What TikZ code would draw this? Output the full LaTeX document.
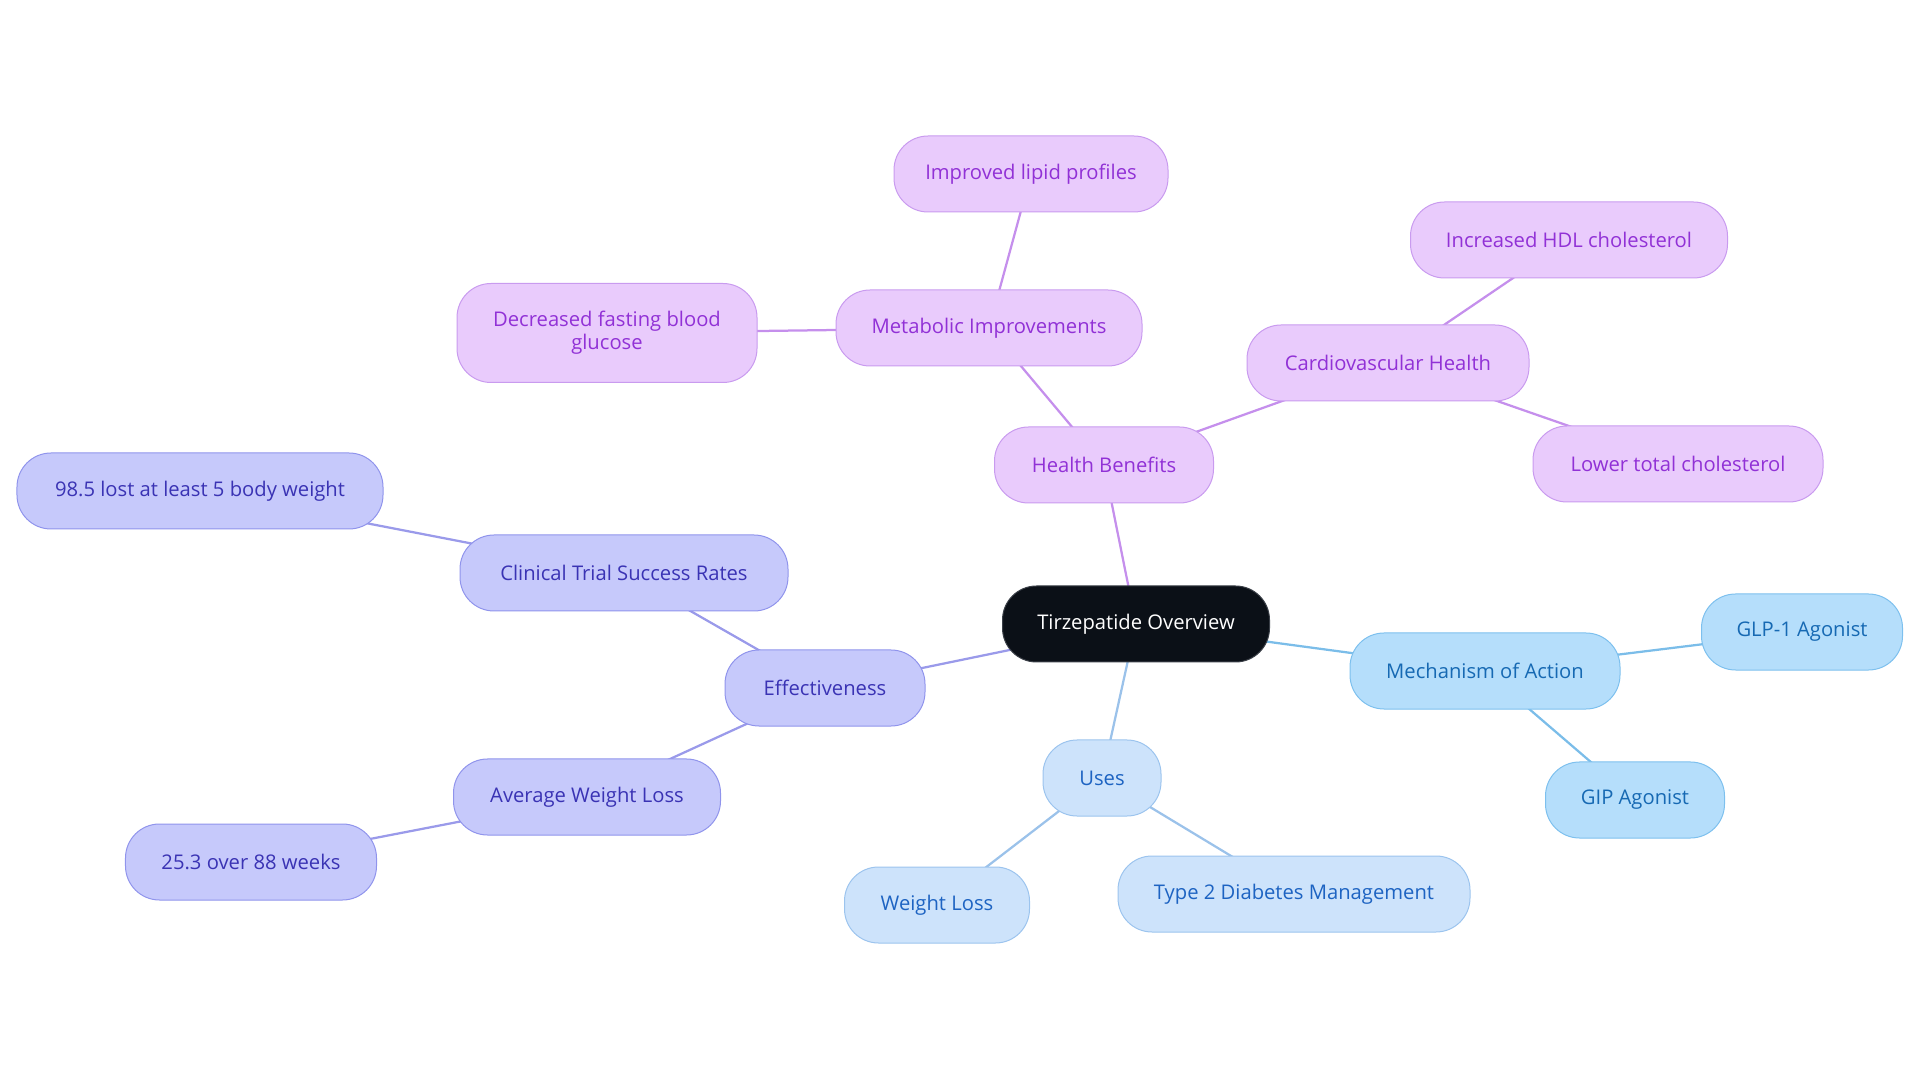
\documentclass[tikz,border=0pt]{standalone}
\usepackage{fontspec}
\setmainfont{Open Sans}
\usepackage{xcolor}
\usepackage{tikz}
\usetikzlibrary{positioning, backgrounds}

\definecolor{rootfill}{HTML}{0B1017}
\definecolor{rootline}{HTML}{3A3F47}
\definecolor{purpfill}{HTML}{E9CBFC}
\definecolor{purpline}{HTML}{C99BEF}
\definecolor{purptext}{HTML}{9131D6}
\definecolor{purpedge}{HTML}{C58FEC}
\definecolor{indifill}{HTML}{C6C9FB}
\definecolor{indiline}{HTML}{9094EC}
\definecolor{inditext}{HTML}{3A33B4}
\definecolor{indiedge}{HTML}{9A9AEA}
\definecolor{usesfill}{HTML}{CDE3FB}
\definecolor{usesline}{HTML}{9CC4EE}
\definecolor{usestext}{HTML}{1D63C2}
\definecolor{usesedge}{HTML}{9BC2EA}
\definecolor{skyfill}{HTML}{B5DEFB}
\definecolor{skyline}{HTML}{7DC0EE}
\definecolor{skytext}{HTML}{1669B3}
\definecolor{skyedge}{HTML}{7BBDE9}

\begin{document}
\begin{tikzpicture}[x=0.2mm, y=-0.2mm,
    box/.style={draw, rectangle, rounded corners=6.8mm, minimum height=15.2mm, inner sep=0pt, align=center, line width=0.2mm, font=\fontsize{11.5}{13.2}\selectfont},
    root/.style={box, fill=rootfill, draw=rootline, text=white},
    purp/.style={box, fill=purpfill, draw=purpline, text=purptext},
    indi/.style={box, fill=indifill, draw=indiline, text=inditext},
    uses/.style={box, fill=usesfill, draw=usesline, text=usestext},
    sky/.style={box, fill=skyfill, draw=skyline, text=skytext},
    link/.style={line width=0.45mm}]
    \useasboundingbox (0,0) rectangle (1920,1083);

    % Nodes
    \node[root, minimum width=53.4mm] (tirz) at (1136,624) {Tirzepatide Overview};
    \node[purp, minimum width=43.8mm] (health) at (1104,465) {Health Benefits};
    \node[purp, minimum width=61.2mm] (metab) at (989,328) {Metabolic Improvements};
    \node[purp, minimum width=54.8mm] (lipid) at (1031,174) {Improved lipid profiles};
    \node[purp, minimum width=60mm, minimum height=19.8mm] (glucose) at (607,333) {Decreased fasting blood\\glucose};
    \node[purp, minimum width=56.4mm] (cardio) at (1388,363) {Cardiovascular Health};
    \node[purp, minimum width=63.4mm] (hdl) at (1569,240) {Increased HDL cholesterol};
    \node[purp, minimum width=58mm] (lowchol) at (1678,464) {Lower total cholesterol};
    \node[indi, minimum width=40mm] (effect) at (825,688) {Effectiveness};
    \node[indi, minimum width=65.6mm] (trial) at (624,573) {Clinical Trial Success Rates};
    \node[indi, minimum width=73.2mm] (rate) at (200,491) {98.5 lost at least 5 body weight};
    \node[indi, minimum width=53.4mm] (avgloss) at (587,797) {Average Weight Loss};
    \node[indi, minimum width=50.2mm] (weeks) at (251,862) {25.3 over 88 weeks};
    \node[uses, minimum width=23.6mm] (uses) at (1102,778) {Uses};
    \node[uses, minimum width=37mm] (wloss) at (937,905) {Weight Loss};
    \node[uses, minimum width=70.4mm] (diabetes) at (1294,894) {Type 2 Diabetes Management};
    \node[sky, minimum width=54mm] (mech) at (1485,671) {Mechanism of Action};
    \node[sky, minimum width=40.2mm] (glp) at (1802,632) {GLP-1 Agonist};
    \node[sky, minimum width=35.8mm] (gip) at (1635,800) {GIP Agonist};

    % Connections
    \begin{scope}[on background layer]
        \draw[link, purpedge] (tirz.center) -- (health.center);
        \draw[link, purpedge] (health.center) -- (metab.center);
        \draw[link, purpedge] (metab.center) -- (lipid.center);
        \draw[link, purpedge] (metab.center) -- (glucose.center);
        \draw[link, purpedge] (health.center) -- (cardio.center);
        \draw[link, purpedge] (cardio.center) -- (hdl.center);
        \draw[link, purpedge] (cardio.center) -- (lowchol.center);
        \draw[link, indiedge] (tirz.center) -- (effect.center);
        \draw[link, indiedge] (effect.center) -- (trial.center);
        \draw[link, indiedge] (trial.center) -- (rate.center);
        \draw[link, indiedge] (effect.center) -- (avgloss.center);
        \draw[link, indiedge] (avgloss.center) -- (weeks.center);
        \draw[link, usesedge] (tirz.center) -- (uses.center);
        \draw[link, usesedge] (uses.center) -- (wloss.center);
        \draw[link, usesedge] (uses.center) -- (diabetes.center);
        \draw[link, skyedge] (tirz.center) -- (mech.center);
        \draw[link, skyedge] (mech.center) -- (glp.center);
        \draw[link, skyedge] (mech.center) -- (gip.center);
    \end{scope}
\end{tikzpicture}
\end{document}
